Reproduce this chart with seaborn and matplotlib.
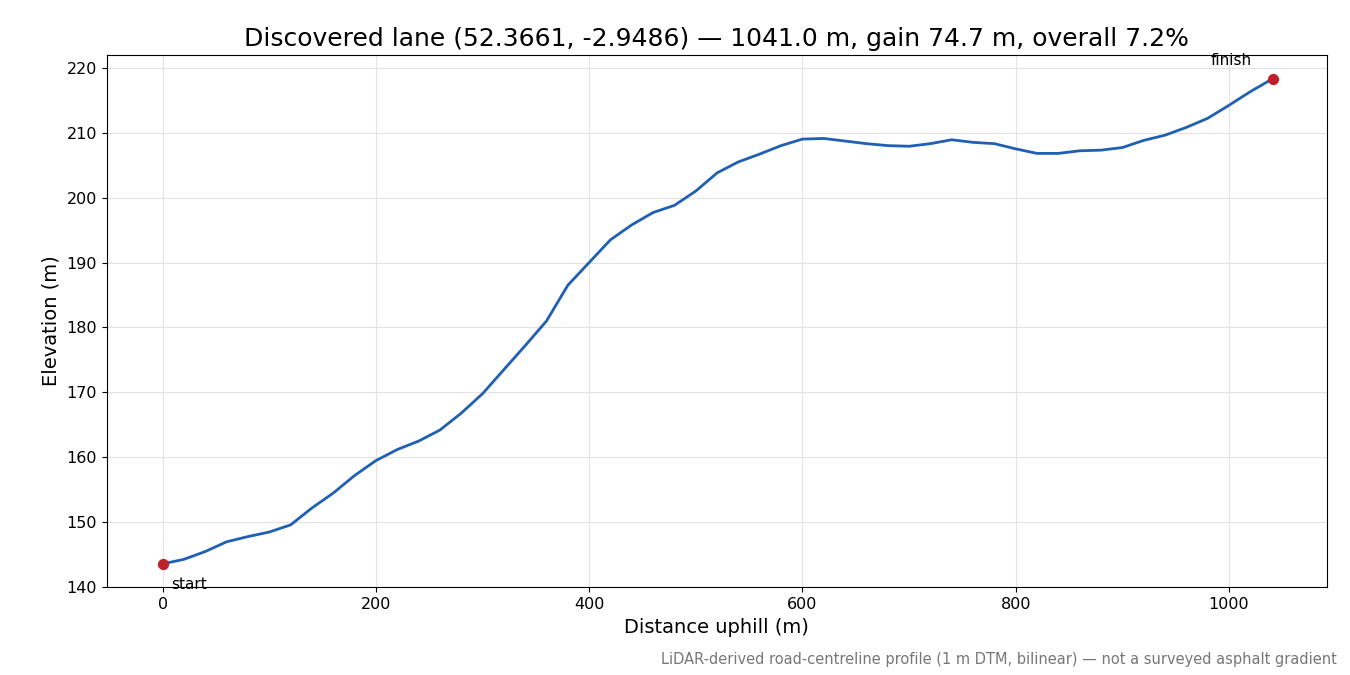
import matplotlib
matplotlib.use("Agg")
import matplotlib.pyplot as plt
import seaborn as sns
import pandas as pd

# profile
distance = [0, 20, 40, 60, 80, 100, 120, 140, 160, 180, 200, 220, 240, 260, 280,
            300, 320, 340, 360, 380, 400, 420, 440, 460, 480, 500, 520, 540, 560,
            580, 600, 620, 640, 660, 680, 700, 720, 740, 760, 780, 800, 820, 840,
            860, 880, 900, 920, 940, 960, 980, 1000, 1020, 1041]
elevation = [143.6, 144.3, 145.5, 147.0, 147.8, 148.5, 149.6, 152.2, 154.5, 157.2,
             159.5, 161.2, 162.5, 164.2, 166.8, 169.8, 173.5, 177.2, 181.0, 186.5,
             190.0, 193.5, 195.8, 197.7, 198.8, 201.0, 203.8, 205.5, 206.7, 208.0,
             209.0, 209.1, 208.7, 208.3, 208.0, 207.9, 208.3, 208.9, 208.5, 208.3,
             207.5, 206.8, 206.8, 207.2, 207.3, 207.7, 208.8, 209.6, 210.8, 212.2,
             214.2, 216.3, 218.3]
end_labels = ["start", "finish"]

df = pd.DataFrame({"dist": distance, "elev": elevation})

sns.set_style("ticks")
plt.rcParams.update({"text.color": "black", "axes.labelcolor": "black",
                     "xtick.color": "black", "ytick.color": "black",
                     "axes.edgecolor": "black"})
fig, ax = plt.subplots(figsize=(13.5, 6.75), dpi=100)
sns.lineplot(data=df, x="dist", y="elev", ax=ax, color="#1f5fb4", linewidth=2)
ends = df.iloc[[0, -1]]
ax.scatter(ends["dist"], ends["elev"], color="#c0202a", s=50, zorder=5)
ax.annotate(end_labels[0], (ends["dist"].iloc[0], ends["elev"].iloc[0]),
            xytext=(6, -18), textcoords="offset points", fontsize=11)
ax.annotate(end_labels[1], (ends["dist"].iloc[1], ends["elev"].iloc[1]),
            xytext=(-45, 10), textcoords="offset points", fontsize=11)

ax.set_xlim(-52.5, 1092)
ax.set_ylim(140, 222)
ax.grid(True, color="#e3e3e3", linewidth=0.8)
ax.tick_params(labelsize=11.5)
ax.set_xlabel("Distance uphill (m)", fontsize=14)
ax.set_ylabel("Elevation (m)", fontsize=14)
ax.set_title("Discovered lane (52.3661, -2.9486) — 1041.0 m, gain 74.7 m, overall 7.2%",
             fontsize=18)
fig.subplots_adjust(left=0.079, right=0.983, top=0.919, bottom=0.13)
fig.text(0.99, 0.012, "LiDAR-derived road-centreline profile (1 m DTM, bilinear) — not a surveyed asphalt gradient",
         ha="right", va="bottom", fontsize=10.5, color="#777777")
fig.savefig("out.png", dpi=100)
